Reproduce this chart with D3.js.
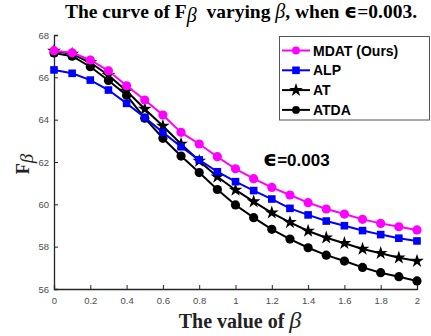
<!DOCTYPE html>
<html>
<head>
<meta charset="utf-8">
<script src="https://cdn.jsdelivr.net/npm/d3@7"></script>
<style>
  body { margin: 0; background: #fff; }
  svg { display: block; }
</style>
</head>
<body>
<div id="chart"></div>
<script>
// beta values 0..2 step 0.1
var betas = [0, 0.1, 0.2, 0.3, 0.4, 0.5, 0.6, 0.7, 0.8, 0.9, 1.0,
  1.1, 1.2, 1.3, 1.4, 1.5, 1.6, 1.7, 1.8, 1.9, 2.0];

var mdat = [67.26, 67.16, 66.82, 66.31, 65.6, 64.93, 64.22, 63.4, 62.85, 62.25, 61.68,
  61.21, 60.8, 60.44, 60.08, 59.78, 59.54, 59.29, 59.1, 58.94, 58.79];
var alp = [66.35, 66.19, 65.87, 65.4, 64.77, 64.1, 63.4, 62.72, 62.1, 61.54, 61.07,
  60.65, 60.25, 59.81, 59.5, 59.21, 58.99, 58.76, 58.57, 58.4, 58.27];
var at = [67.25, 67.1, 66.7, 66.1, 65.35, 64.5, 63.7, 62.85, 62.05, 61.3, 60.68,
  60.13, 59.6, 59.15, 58.74, 58.42, 58.16, 57.89, 57.69, 57.48, 57.32];
var atda = [67.15, 67.0, 66.5, 65.85, 65.15, 64.07, 63.12, 62.28, 61.5, 60.7, 59.97,
  59.37, 58.82, 58.36, 57.95, 57.6, 57.32, 57.02, 56.77, 56.58, 56.38];

var xTicks = [0, 0.2, 0.4, 0.6, 0.8, 1, 1.2, 1.4, 1.6, 1.8, 2];
var yTicks = [56, 58, 60, 62, 64, 66, 68];

var series = [
  {name: 'MDAT (Ours)', values: mdat, color: '#ff00ff', marker: 'circle'},
  {name: 'ALP', values: alp, color: '#0000ff', marker: 'square'},
  {name: 'AT', values: at, color: '#000000', marker: 'star'},
  {name: 'ATDA', values: atda, color: '#000000', marker: 'circle'}
];

var width = 431, height = 336;
var margin = {left: 54, right: 14, top: 35, bottom: 47};

var svg = d3.select('#chart').append('svg')
  .attr('width', width)
  .attr('height', height);

var x = d3.scaleLinear().domain([0, 2]).range([margin.left, width - margin.right]);
var y = d3.scaleLinear().domain([56, 68]).range([height - margin.bottom, margin.top]);

var axisColor = '#262626';
var tickColor = '#4d4d4d';

// x axis, ticks pointing inward
var gx = svg.append('g')
  .attr('transform', 'translate(0,' + y(56) + ')')
  .call(d3.axisBottom(x).tickValues(xTicks).tickSize(-4).tickPadding(8)
    .tickFormat(d3.format('')));
gx.select('.domain').attr('stroke', axisColor).attr('stroke-width', 1.3);
gx.selectAll('.tick line').attr('stroke', axisColor);
gx.selectAll('.tick text').attr('fill', tickColor)
  .style('font-family', 'Liberation Sans, Arial, sans-serif').style('font-size', '9.5px');

var gy = svg.append('g')
  .attr('transform', 'translate(' + x(0) + ',0)')
  .call(d3.axisLeft(y).tickValues(yTicks).tickSize(-4).tickPadding(5));
gy.select('.domain').attr('stroke', axisColor).attr('stroke-width', 1.3);
gy.selectAll('.tick line').attr('stroke', axisColor);
gy.selectAll('.tick text').attr('fill', tickColor)
  .style('font-family', 'Liberation Sans, Arial, sans-serif').style('font-size', '9.5px');

function drawMarker(g, s, cx, cy, scale) {
  scale = scale || 1;
  if (s.marker === 'circle') {
    g.append('circle').attr('cx', cx).attr('cy', cy).attr('r', 4.6 * scale)
      .attr('fill', s.color);
  } else if (s.marker === 'square') {
    var h = 3.8 * scale;
    g.append('rect').attr('x', cx - h).attr('y', cy - h)
      .attr('width', 2 * h).attr('height', 2 * h).attr('fill', s.color);
  } else {
    g.append('path').attr('d', d3.symbol().type(d3.symbolStar).size(58 * scale * scale)())
      .attr('transform', 'translate(' + cx + ',' + cy + ')')
      .attr('fill', s.color);
  }
}

var line = d3.line()
  .x(function (d, i) { return x(betas[i]); })
  .y(function (d) { return y(d); });

// draw from back to front so MDAT ends on top
series.slice().reverse().forEach(function (s) {
  var g = svg.append('g');
  g.append('path').datum(s.values)
    .attr('d', line)
    .attr('fill', 'none')
    .attr('stroke', s.color)
    .attr('stroke-width', 2);
  s.values.forEach(function (v, i) {
    drawMarker(g, s, x(betas[i]), y(v));
  });
});

var serif = 'Liberation Serif, Times New Roman, serif';

// title
var title = svg.append('text')
  .attr('x', 241).attr('y', 18)
  .attr('text-anchor', 'middle')
  .style('font-family', serif)
  .style('font-weight', 'bold')
  .style('font-size', '19.5px')
  .attr('fill', '#000');
title.append('tspan').text('The curve of F');
title.append('tspan').attr('dy', 4).style('font-style', 'italic').style('font-weight', 'normal')
  .style('font-size', '20px').text('\u03B2');
title.append('tspan').attr('dy', -4).text('\u00A0 varying ');
title.append('tspan').style('font-style', 'italic').style('font-weight', 'normal')
  .style('font-size', '20px').text('\u03B2');
title.append('tspan').text(', when ');
title.append('tspan').style('font-family', 'DejaVu Sans, sans-serif')
  .style('font-size', '20px').text('\u03F5');
title.append('tspan').text('=0.003.');

// x label
var xl = svg.append('text')
  .attr('x', 240).attr('y', 328)
  .attr('text-anchor', 'middle')
  .style('font-family', serif)
  .style('font-weight', 'bold')
  .style('font-size', '20px')
  .attr('fill', '#222');
xl.append('tspan').text('The value of ');
xl.append('tspan').style('font-style', 'italic').style('font-weight', 'normal')
  .style('font-size', '24px').text('\u03B2');

// y label
var yl = svg.append('text')
  .attr('transform', 'translate(29,' + (y(62) + 2) + ') rotate(-90)')
  .attr('text-anchor', 'middle')
  .style('font-family', serif)
  .style('font-weight', 'bold')
  .style('font-size', '18px')
  .attr('fill', '#222');
yl.append('tspan').text('F');
yl.append('tspan').attr('dy', 4).style('font-style', 'italic').style('font-weight', 'normal')
  .style('font-size', '19px').text('\u03B2');

// annotation
var ann = svg.append('text')
  .attr('x', 263).attr('y', 166)
  .style('font-family', 'Liberation Sans, Arial, sans-serif')
  .style('font-weight', 'bold')
  .style('font-size', '17px')
  .attr('fill', '#000');
ann.append('tspan').style('font-family', 'DejaVu Sans, sans-serif')
  .style('font-size', '22px').text('\u03F5');
ann.append('tspan').text('=0.003');

// legend
var legend = svg.append('g');
legend.append('rect')
  .attr('x', 279.5).attr('y', 36.5)
  .attr('width', 150).attr('height', 83.5)
  .attr('fill', '#fff')
  .attr('stroke', '#555')
  .attr('stroke-width', 1);

series.forEach(function (s, i) {
  var ly = 50.5 + i * 19.8;
  var g = legend.append('g');
  g.append('line').attr('x1', 282).attr('x2', 310).attr('y1', ly).attr('y2', ly)
    .attr('stroke', s.color).attr('stroke-width', 2);
  drawMarker(g, s, 296, ly, s.marker === 'circle' ? 0.85 : 1);
  g.append('text').attr('x', 313).attr('y', ly + 5)
    .style('font-family', 'Liberation Sans, Arial, sans-serif')
    .style('font-weight', 'bold')
    .style('font-size', '14px')
    .attr('fill', '#000')
    .text(s.name);
});
</script>
</body>
</html>
